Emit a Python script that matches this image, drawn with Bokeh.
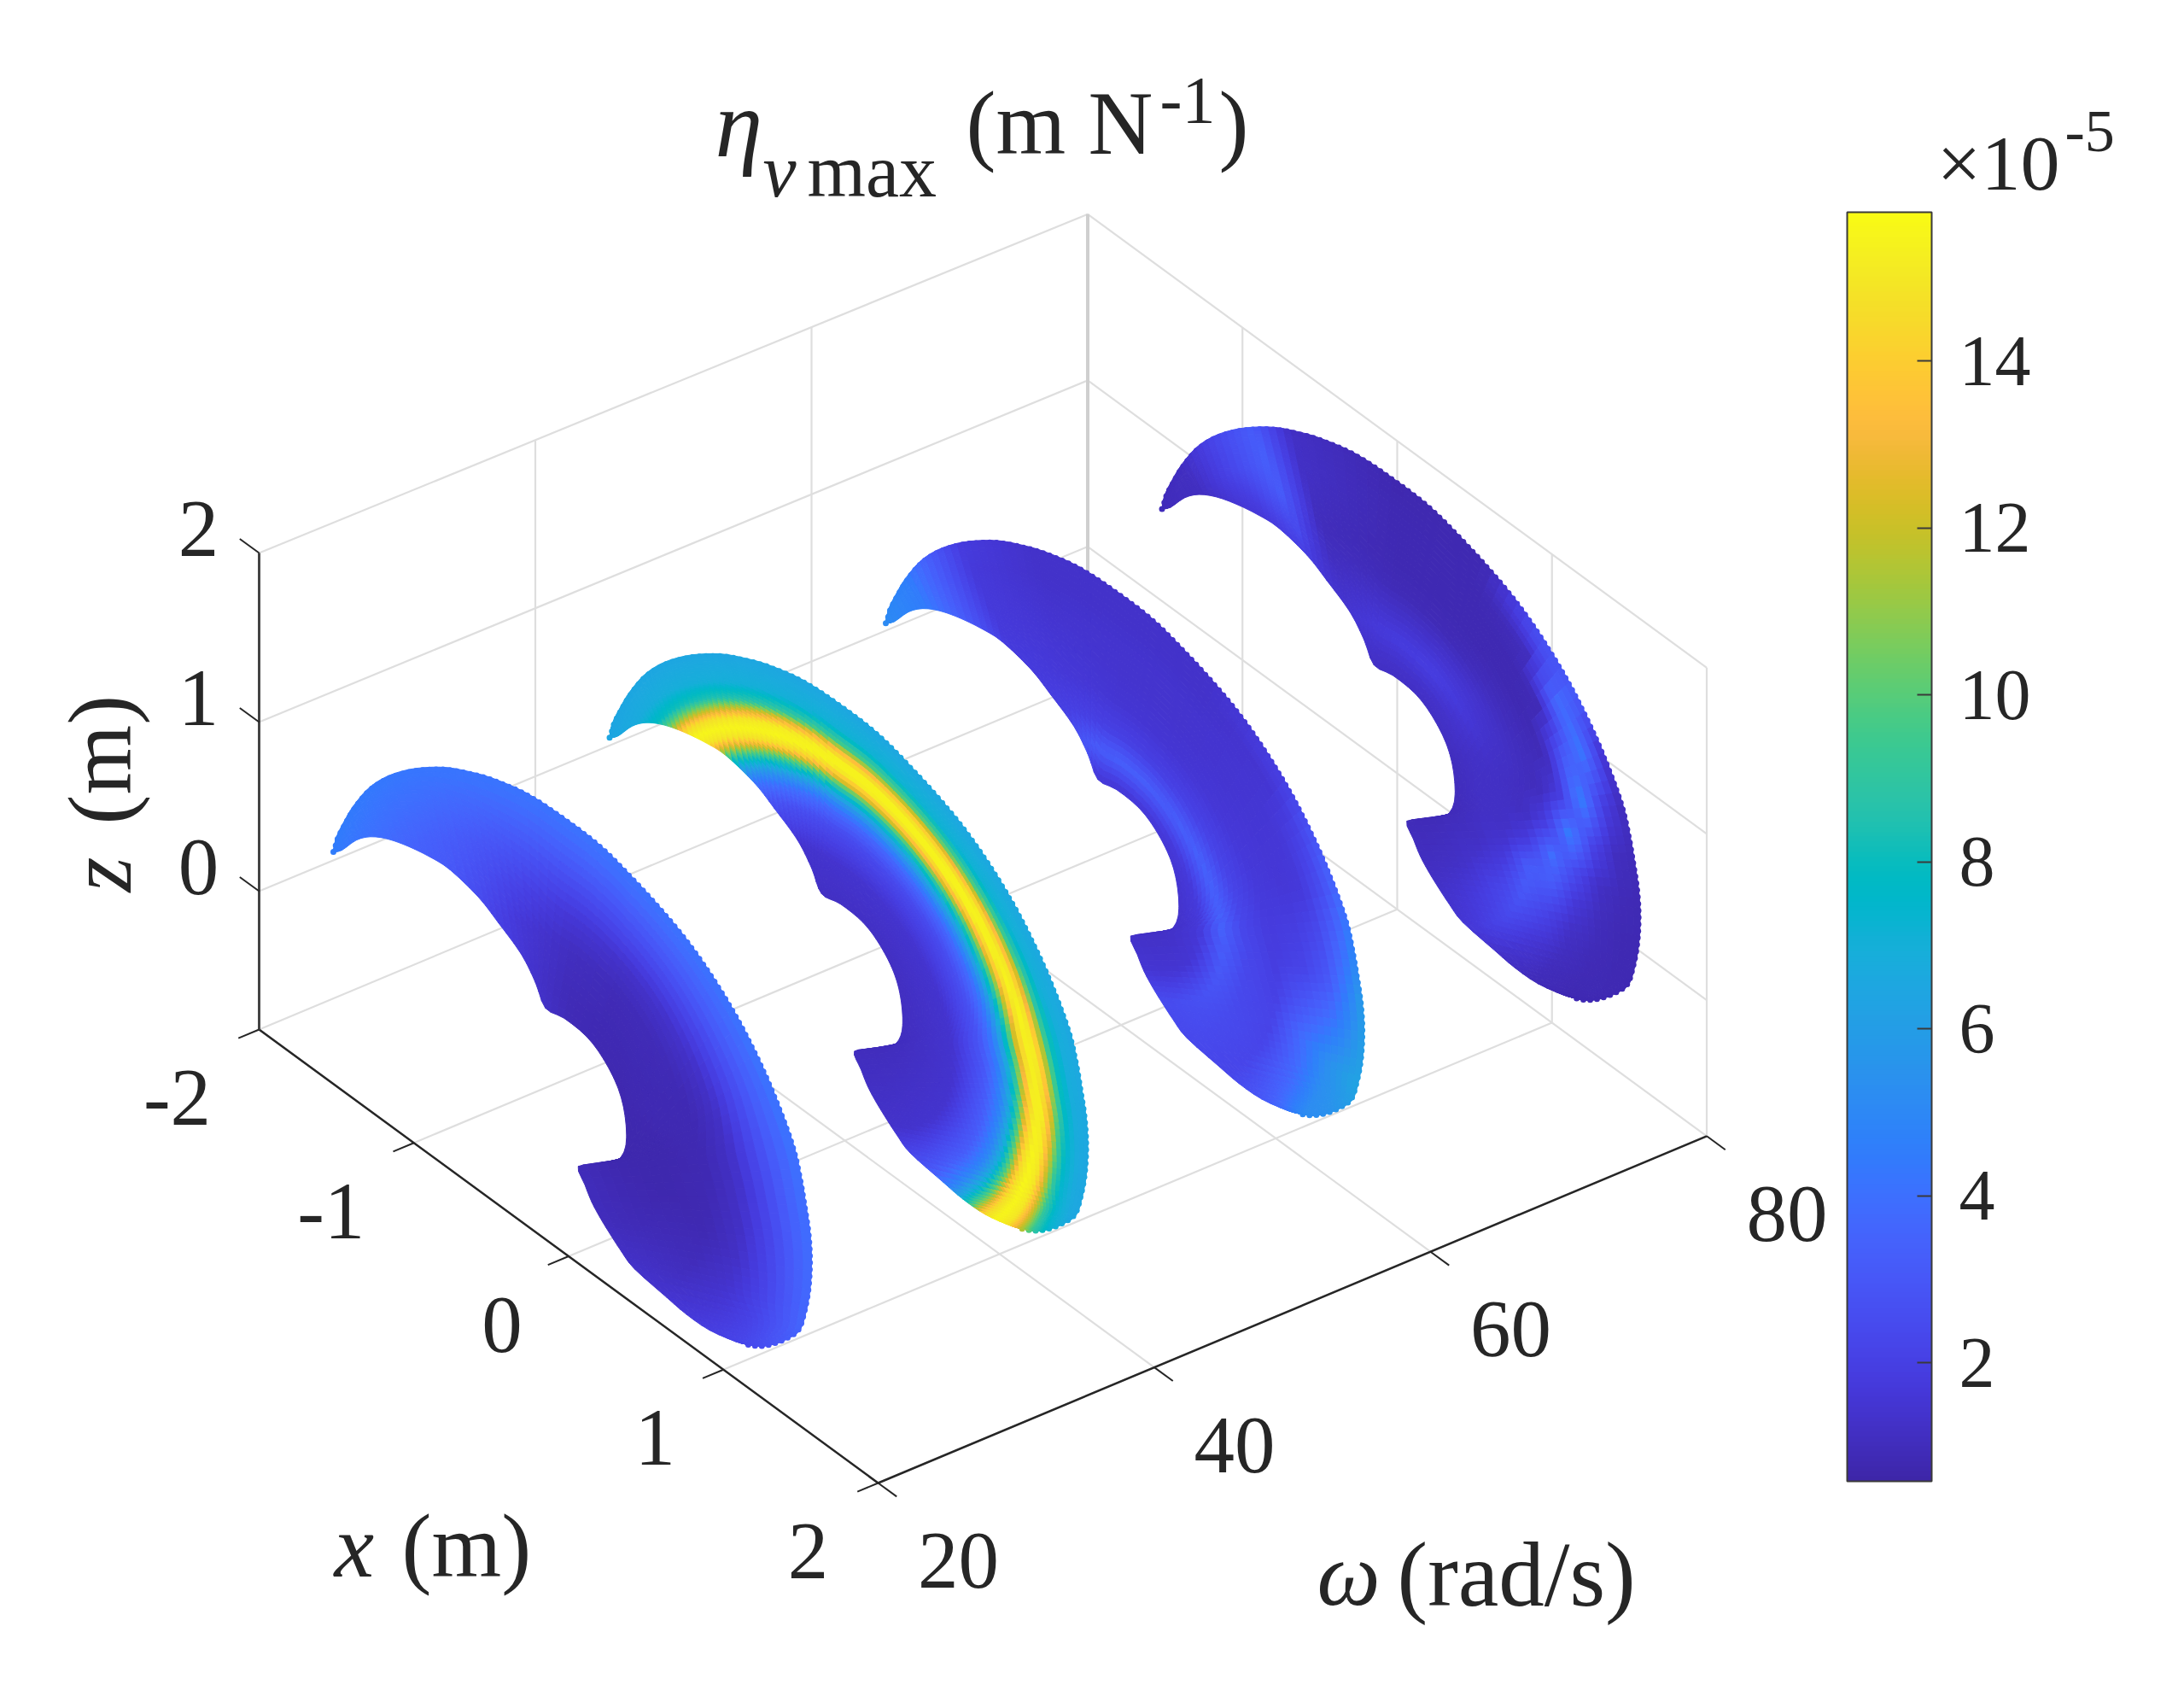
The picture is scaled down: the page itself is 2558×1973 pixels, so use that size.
import numpy as np
from bokeh.plotting import figure
from bokeh.models import Range1d, ColumnDataSource, ColorBar, LinearColorMapper, FixedTicker
from bokeh.core.properties import value
from bokeh.embed import file_html
from bokeh.resources import INLINE

# ---- axes -------------------------------------------------------------
x_ticks = [-2, -1, 0, 1, 2]
w_ticks = [20, 40, 60, 80]
z_ticks = [0, 1, 2]
z_min = -0.818
cb_ticks = [2, 4, 6, 8, 10, 12, 14]
cb_low = 0.583
cb_high = 15.785

# ---- crescent outline (x, z in m); same for all omega
slice_omega = [20, 40, 60, 80]
outer_x = [-1.52, -1.502, -1.447, -1.391, -1.299, -1.189, -1.06, -0.931, -0.785, -0.637, -0.49, -0.269, -0.03, 0.209, 0.429,
           0.614, 0.779, 0.945, 1.11, 1.257, 1.367, 1.459, 1.505, 1.533, 1.56, 1.57, 1.56, 1.533, 1.496, 1.422, 1.33, 1.239, 1.146]
outer_z = [0.554, 0.652, 0.79, 0.912, 1.074, 1.216, 1.344, 1.448, 1.546, 1.62, 1.68, 1.74, 1.757, 1.749, 1.695,
           1.633, 1.559, 1.451, 1.309, 1.139, 0.976, 0.803, 0.648, 0.515, 0.365, 0.203, 0.028, -0.125, -0.251, -0.35, -0.446, -0.52, -0.569]
inner_x = [-1.52, -1.465, -1.373, -1.281, -1.171, -1.042, -0.895, -0.766, -0.582, -0.454, -0.306, -0.214, -0.15, -0.03, 0.117,
           0.227, 0.319, 0.365, 0.37, 0.312, 0.19, 0.062, 0.105, 0.148, 0.20, 0.263, 0.34, 0.424, 0.632, 0.76, 0.908, 1.073, 1.146]
inner_z = [0.554, 0.601, 0.722, 0.804, 0.865, 0.91, 0.943, 0.954, 0.915, 0.85, 0.764, 0.657, 0.549, 0.57, 0.559,
           0.498, 0.392, 0.254, 0.085, -0.045, -0.155, -0.245, -0.325, -0.395, -0.45, -0.503, -0.56, -0.607, -0.636, -0.651, -0.645, -0.601, -0.569]

# ---- eta values (x 1e-5), by angle and radius in the x-z plane
phi_w20 = [170, 150, 130, 110, 90, 70, 50, 30, 10, -10, -30, -50, -70, -90]
rho_w20 = [0.3, 0.6, 0.9, 1.1, 1.3, 1.45, 1.6, 1.75]
eta_w20 = [
    [3.0, 3.0, 3.0, 3.4, 3.8, 4.2, 4.6, 4.6],
    [3.0, 3.0, 3.0, 3.3, 3.6, 4.0, 4.4, 4.5],
    [2.0, 2.0, 2.4, 2.9, 3.3, 3.8, 4.2, 4.4],
    [1.2, 1.3, 1.6, 2.2, 2.9, 3.5, 4.1, 4.3],
    [0.9, 0.9, 1.1, 1.6, 2.5, 3.3, 4.0, 4.2],
    [0.8, 0.8, 0.9, 1.3, 2.4, 3.2, 4.0, 4.1],
    [0.7, 0.8, 0.9, 1.3, 2.4, 3.3, 4.0, 4.2],
    [0.7, 0.8, 0.8, 1.2, 2.4, 3.3, 4.1, 4.3],
    [0.7, 0.7, 0.8, 1.2, 2.3, 3.3, 4.1, 4.3],
    [0.7, 0.7, 0.8, 1.2, 2.2, 3.1, 4.0, 4.2],
    [0.7, 0.8, 1.0, 1.5, 2.2, 2.9, 3.6, 3.8],
    [0.8, 0.9, 1.3, 1.8, 2.4, 2.8, 3.2, 3.4],
    [0.9, 1.0, 1.5, 2.1, 2.5, 2.7, 3.0, 3.0],
    [0.9, 1.0, 1.5, 2.1, 2.5, 2.7, 3.0, 3.0],
]
phi_w60 = [170, 150, 130, 110, 90, 70, 50, 30, 10, -10, -30, -50, -70, -90]
rho_w60 = [0.3, 0.5, 0.65, 0.8, 1.0, 1.2, 1.35, 1.5, 1.6, 1.75]
eta_w60 = [
    [5.4, 5.4, 5.4, 5.4, 5.4, 5.4, 5.4, 5.4, 5.4, 5.4],
    [4.4, 4.4, 4.4, 4.4, 4.4, 4.4, 4.4, 4.5, 4.6, 4.6],
    [1.8, 1.9, 2.1, 1.9, 1.8, 1.7, 1.7, 1.7, 1.8, 1.8],
    [1.3, 1.7, 3.0, 2.0, 1.6, 1.5, 1.4, 1.3, 1.3, 1.3],
    [1.2, 1.7, 3.3, 2.0, 1.5, 1.4, 1.4, 1.3, 1.3, 1.3],
    [1.2, 1.7, 3.2, 2.0, 1.5, 1.4, 1.4, 1.3, 1.3, 1.3],
    [1.2, 1.7, 3.3, 2.1, 1.6, 1.5, 1.5, 1.5, 1.9, 2.0],
    [1.2, 1.7, 3.4, 2.2, 1.7, 1.6, 1.7, 2.6, 3.6, 4.0],
    [1.2, 1.7, 3.4, 2.3, 1.8, 2.2, 3.0, 4.8, 6.2, 6.4],
    [1.2, 1.6, 3.1, 2.3, 2.1, 4.0, 5.3, 6.2, 6.5, 6.5],
    [1.2, 1.5, 2.8, 2.4, 2.2, 3.6, 5.2, 5.2, 5.0, 5.0],
    [1.2, 1.5, 2.6, 2.4, 2.2, 2.6, 2.9, 3.0, 3.0, 3.0],
    [1.2, 1.5, 2.4, 2.3, 2.2, 2.3, 2.4, 2.4, 2.4, 2.4],
    [1.2, 1.5, 2.4, 2.3, 2.2, 2.3, 2.4, 2.4, 2.4, 2.4],
]
phi_w80 = [170, 150, 135, 125, 115, 90, 70, 55, 45, 35, 25, 15, 5, -5, -15, -30, -50, -70, -90]
rho_w80 = [0.3, 0.55, 0.7, 0.85, 1.0, 1.15, 1.3, 1.45, 1.6, 1.75]
eta_w80 = [
    [0.9, 0.9, 0.9, 0.9, 0.9, 0.9, 0.9, 0.9, 0.9, 0.9],
    [1.0, 1.0, 1.0, 1.0, 1.0, 1.0, 1.0, 1.1, 1.1, 1.2],
    [1.0, 1.1, 1.2, 1.3, 1.4, 1.5, 1.9, 2.4, 2.4, 2.2],
    [1.0, 1.2, 1.4, 1.6, 1.9, 2.5, 3.1, 3.3, 3.2, 3.0],
    [1.0, 1.3, 1.5, 1.3, 1.1, 1.0, 1.1, 1.2, 1.2, 1.1],
    [0.9, 1.3, 1.8, 1.3, 0.9, 0.8, 0.8, 0.8, 0.75, 0.75],
    [0.9, 1.3, 1.9, 1.4, 0.9, 0.8, 0.8, 0.8, 0.8, 0.8],
    [0.9, 1.3, 1.7, 1.4, 1.0, 0.8, 0.8, 1.0, 2.6, 2.8],
    [0.9, 1.3, 1.5, 1.3, 1.0, 0.8, 0.9, 3.8, 3.3, 1.8],
    [0.9, 1.2, 1.3, 1.2, 1.0, 0.9, 3.0, 4.2, 1.6, 1.0],
    [0.9, 1.2, 1.2, 1.1, 1.0, 1.7, 4.6, 2.0, 1.0, 0.9],
    [0.9, 1.2, 1.2, 1.1, 1.9, 4.5, 2.2, 1.1, 0.9, 0.8],
    [0.9, 1.2, 1.2, 1.8, 3.9, 2.4, 1.2, 0.9, 0.8, 0.8],
    [0.9, 1.2, 1.5, 3.2, 3.1, 1.6, 1.0, 0.8, 0.8, 0.8],
    [0.9, 1.2, 1.8, 3.1, 2.2, 1.2, 0.9, 0.8, 0.8, 0.8],
    [0.9, 1.3, 2.0, 2.5, 1.6, 1.0, 0.8, 0.8, 0.8, 0.8],
    [0.9, 1.2, 1.6, 1.8, 1.2, 0.9, 0.8, 0.8, 0.8, 0.8],
    [0.9, 1.1, 1.2, 1.2, 1.0, 0.8, 0.8, 0.8, 0.8, 0.8],
    [0.9, 1.1, 1.2, 1.2, 1.0, 0.8, 0.8, 0.8, 0.8, 0.8],
]
phi_w40 = [170, 140, 110, 80, 50, 20, -10, -40, -70, -90]
rho_w40 = [0.3, 0.7, 0.9, 1.0, 1.06, 1.12, 1.17, 1.22, 1.27, 1.32, 1.37, 1.42, 1.5, 1.7]
eta_w40 = [
    [3.0, 3.0, 3.5, 5.0, 6.0, 7.0, 8.0, 9.5, 10.0, 9.5, 8.0, 7.0, 6.5, 6.3],
    [1.0, 1.4, 2.8, 4.3, 6.0, 8.6, 12.0, 15.0, 15.6, 14.5, 11.0, 8.2, 6.9, 6.2],
    [1.0, 1.4, 2.6, 4.0, 5.5, 7.8, 10.8, 14.6, 15.6, 15.2, 12.5, 8.8, 7.0, 6.3],
    [1.0, 1.4, 2.4, 3.6, 4.9, 6.8, 9.2, 13.0, 15.4, 15.5, 14.0, 10.0, 7.2, 6.3],
    [1.0, 1.4, 2.4, 3.6, 4.9, 6.8, 9.2, 13.0, 15.4, 15.5, 14.0, 10.0, 7.2, 6.3],
    [1.0, 1.4, 2.8, 4.3, 6.0, 8.6, 12.0, 15.0, 15.6, 14.5, 11.0, 8.2, 6.9, 6.2],
    [1.0, 1.4, 3.2, 5.0, 7.0, 10.5, 14.5, 15.6, 15.0, 12.0, 9.0, 7.4, 6.6, 6.1],
    [1.0, 1.4, 3.2, 5.0, 7.0, 10.5, 14.5, 15.6, 15.0, 12.0, 9.0, 7.4, 6.6, 6.1],
    [1.0, 1.3, 2.4, 3.6, 4.4, 4.8, 6.5, 8.0, 8.0, 7.0, 6.5, 6.0, 6.0, 6.0],
    [1.0, 1.2, 2.0, 3.0, 3.4, 3.6, 4.0, 4.2, 4.2, 4.2, 4.2, 4.2, 4.2, 4.2],
]

# parula colour map of the colour bar
parula = [[0.2422,0.1504,0.6603],[0.2504,0.1650,0.7076],[0.2578,0.1818,0.7511],[0.2647,0.1978,0.7952],[0.2706,0.2147,0.8364],[0.2751,0.2342,0.8710],[0.2783,0.2559,0.8991],[0.2803,0.2782,0.9221],[0.2813,0.3006,0.9414],[0.2810,0.3228,0.9579],[0.2795,0.3447,0.9717],[0.2760,0.3667,0.9829],[0.2699,0.3892,0.9906],[0.2602,0.4123,0.9952],[0.2440,0.4358,0.9988],[0.2206,0.4603,0.9973],[0.1963,0.4847,0.9892],[0.1834,0.5074,0.9798],[0.1786,0.5289,0.9682],[0.1764,0.5499,0.9520],[0.1687,0.5703,0.9359],[0.1540,0.5902,0.9218],[0.1460,0.6091,0.9079],[0.1380,0.6276,0.8973],[0.1248,0.6459,0.8883],[0.1113,0.6635,0.8763],[0.0952,0.6798,0.8598],[0.0689,0.6948,0.8394],[0.0297,0.7082,0.8163],[0.0036,0.7203,0.7917],[0.0067,0.7312,0.7660],[0.0433,0.7411,0.7394],[0.0964,0.7500,0.7120],[0.1408,0.7584,0.6842],[0.1717,0.7670,0.6554],[0.1938,0.7758,0.6251],[0.2161,0.7843,0.5923],[0.2470,0.7918,0.5567],[0.2906,0.7973,0.5188],[0.3406,0.8008,0.4789],[0.3909,0.8029,0.4354],[0.4456,0.8024,0.3909],[0.5044,0.7993,0.3480],[0.5616,0.7942,0.3045],[0.6174,0.7876,0.2612],[0.6720,0.7793,0.2227],[0.7242,0.7698,0.1910],[0.7738,0.7598,0.1646],[0.8203,0.7498,0.1535],[0.8634,0.7406,0.1596],[0.9035,0.7330,0.1774],[0.9393,0.7288,0.2100],[0.9728,0.7298,0.2394],[0.9956,0.7434,0.2371],[0.9970,0.7659,0.2199],[0.9952,0.7893,0.2028],[0.9892,0.8136,0.1885],[0.9786,0.8386,0.1766],[0.9676,0.8639,0.1643],[0.9610,0.8890,0.1537],[0.9597,0.9135,0.1423],[0.9628,0.9373,0.1265],[0.9691,0.9606,0.1064],[0.9769,0.9839,0.0805]]

# ---- view ---------------------------------------------------------------
ORIGIN = (303.0, 1205.0)
UX = (181.25, 132.75)
UW = (16.175, -6.77)
UZ = 198.0
UZ_SHRINK = 0.017  # slight perspective of the original view
RHO_CENTER = (0.0, 0.1)
RIM_STEP = 8.0     # px between the points along the scalloped rim
RIM_INSET = 0.012  # m, how far the rim points sit inside the outline


def project(x, w, z):
    x, w, z = np.asarray(x, float), np.asarray(w, float), np.asarray(z, float)
    px = ORIGIN[0] + (x + 2) * UX[0] + (w - 20) * UW[0]
    scale = UZ * (1 - UZ_SHRINK * (w - 20) / 60)
    py = ORIGIN[1] + (x + 2) * UX[1] + (w - 20) * UW[1] - (z - z_min) * scale
    return px, py


pal = np.array(parula) * 255
pal_pos = np.linspace(0, 1, len(pal))


def to_hex(v):
    t = np.clip((np.asarray(v, float) - cb_low) / (cb_high - cb_low), 0, 1)
    r = np.interp(t, pal_pos, pal[:, 0]).astype(int)
    g = np.interp(t, pal_pos, pal[:, 1]).astype(int)
    b = np.interp(t, pal_pos, pal[:, 2]).astype(int)
    return ["#%02x%02x%02x" % c for c in zip(r.ravel(), g.ravel(), b.ravel())]


def smooth(points, per):
    # Catmull-Rom through the outline points
    p = np.asarray(points, float)
    q = np.concatenate([[p[0]], p, [p[-1]]])
    out = []
    for i in range(1, len(q) - 2):
        for s in np.linspace(0, 1, per, endpoint=False):
            a, b, c, d = q[i - 1], q[i], q[i + 1], q[i + 2]
            out.append(0.5 * (2 * b + (c - a) * s + (2 * a - 5 * b + 4 * c - d) * s ** 2 + (3 * b - a - 3 * c + d) * s ** 3))
    out.append(p[-1])
    return np.array(out)


def shade(x, z, phis, rhos, table):
    # surface colour between the read values, like MATLAB's "shading interp"
    phi = np.degrees(np.arctan2(z - RHO_CENTER[1], x - RHO_CENTER[0]))
    rho = np.hypot(x - RHO_CENTER[0], z - RHO_CENTER[1])
    tab = np.asarray(table, float)
    ph = np.asarray(phis, float)[::-1]
    tab = tab[::-1]
    by_rho = np.array([np.interp(rho.ravel(), rhos, row) for row in tab])
    flat = phi.ravel()
    res = np.array([np.interp(flat[i], ph, by_rho[:, i]) for i in range(flat.size)])
    return res.reshape(x.shape)


tables = {20: (phi_w20, rho_w20, eta_w20, 3, 22), 40: (phi_w40, rho_w40, eta_w40, 4, 44),
          60: (phi_w60, rho_w60, eta_w60, 3, 30), 80: (phi_w80, rho_w80, eta_w80, 3, 30)}

p = figure(width=2542, height=1957, x_range=Range1d(0, 2542), y_range=Range1d(1957, 0),
           toolbar_location=None, output_backend="svg", min_border=0,
           x_axis_type=None, y_axis_type=None, outline_line_color=None)
p.grid.visible = False

# ---- grid ----------------------------------------------------------------
GRID = "#dedede"
gx0, gx1, gy0, gy1 = [], [], [], []


def grid_line(a, b):
    pa, pb = project(*a), project(*b)
    gx0.append(float(pa[0])); gy0.append(float(pa[1])); gx1.append(float(pb[0])); gy1.append(float(pb[1]))


for x in x_ticks:
    grid_line((x, 20, z_min), (x, 80, z_min))
    grid_line((x, 80, z_min), (x, 80, 2))
for w in w_ticks:
    grid_line((-2, w, z_min), (2, w, z_min))
    grid_line((-2, w, z_min), (-2, w, 2))
for z in z_ticks:
    grid_line((-2, 20, z), (-2, 80, z))
    grid_line((-2, 80, z), (2, 80, z))
p.segment(gx0, gy0, gx1, gy1, line_color=GRID, line_width=2.2)
bk = project([-2, -2], [80, 80], [z_min, 2])
p.line(list(bk[0]), list(bk[1]), line_color="#cfcfcf", line_width=4)

# ---- slices ---------------------------------------------------------------
for w in slice_omega:
    phis, rhos, table, per, n_across = tables[w]
    out = smooth(np.c_[outer_x, outer_z], per)
    inn = smooth(np.c_[inner_x, inner_z], per)
    s = np.linspace(0, 1, n_across + 1)[None, :, None]
    mesh = out[:, None, :] * (1 - s) + inn[:, None, :] * s
    mx, mz = mesh[..., 0], mesh[..., 1]
    px, py = project(mx, np.full(mx.shape, w), mz)
    cx = (mx[:-1, :-1] + mx[1:, :-1] + mx[:-1, 1:] + mx[1:, 1:]) / 4
    cz = (mz[:-1, :-1] + mz[1:, :-1] + mz[:-1, 1:] + mz[1:, 1:]) / 4
    cols = to_hex(shade(cx, cz, phis, rhos, table))
    xs, ys = [], []
    for i in range(cx.shape[0]):
        for j in range(cx.shape[1]):
            xs.append([px[i, j], px[i + 1, j], px[i + 1, j + 1], px[i, j + 1]])
            ys.append([py[i, j], py[i + 1, j], py[i + 1, j + 1], py[i, j + 1]])
    # scalloped outer rim made of the surface's points
    dense = smooth(np.c_[outer_x, outer_z], 16)
    dense_in = smooth(np.c_[inner_x, inner_z], 16)
    width = np.maximum(np.hypot(*(dense - dense_in).T), 1e-6)
    blend = np.clip(RIM_INSET / width, 0, 0.4)[:, None]
    dense = dense * (1 - blend) + dense_in * blend
    dx, dy = project(dense[:, 0], np.full(len(dense), w), dense[:, 1])
    arc = np.r_[0, np.cumsum(np.hypot(np.diff(dx), np.diff(dy)))]
    stops = np.arange(0, arc[-1], RIM_STEP)
    rim_mx = np.interp(stops, arc, dense[:, 0])
    rim_mz = np.interp(stops, arc, dense[:, 1])
    rim_v = shade(rim_mx, rim_mz, phis, rhos, table)
    rim_x, rim_y = project(rim_mx, np.full(len(rim_mx), w), rim_mz)
    p.scatter(rim_x, rim_y, size=7, marker="circle", fill_color=to_hex(rim_v), line_color=None)
    src = ColumnDataSource(dict(xs=xs, ys=ys, c=cols))
    p.patches("xs", "ys", source=src, fill_color="c", line_color="c", line_width=1)

# ---- axes, ticks ------------------------------------------------------------
AX = "#262626"
a = project([-2, 2, 2], [20, 20, 80], [z_min, z_min, z_min])
p.line(list(a[0]), list(a[1]), line_color=AX, line_width=2.5)
a = project([-2, -2], [20, 20], [z_min, 2])
p.line(list(a[0]), list(a[1]), line_color="#444444", line_width=3)

tx0, ty0 = project(x_ticks, [20] * 5, [z_min] * 5)
tx1, ty1 = project(x_ticks, [18.5] * 5, [z_min] * 5)
p.segment(tx0, ty0, tx1, ty1, line_color=AX, line_width=2)
tx0, ty0 = project([2] * 4, w_ticks, [z_min] * 4)
tx1, ty1 = project([2.12] * 4, w_ticks, [z_min] * 4)
p.segment(tx0, ty0, tx1, ty1, line_color=AX, line_width=2)
tx0, ty0 = project([-2] * 3, [20] * 3, z_ticks)
tx1, ty1 = project([-2.125] * 3, [20] * 3, z_ticks)
p.segment(tx0, ty0, tx1, ty1, line_color=AX, line_width=2)

SERIF = value("Liberation Serif")
TXT = "#262626"


def label(xs, ys, texts, size, align="center", baseline="middle", style="normal", angle=0.0):
    p.text(x=list(xs), y=list(ys), text=list(texts), text_font=SERIF, text_font_size=f"{size}px",
           text_align=align, text_baseline=baseline, text_font_style=style, text_color=TXT, angle=angle)


lx, ly = project(x_ticks, [20] * 5, [z_min] * 5)
x_shift = np.array([-96, -97, -78, -80, -82])
label(lx + x_shift, ly + 80, [str(v) for v in x_ticks], 95)
lx, ly = project([2] * 4, w_ticks, [z_min] * 4)
label(lx + 94, ly + 91, [str(v) for v in w_ticks], 95)
lx, ly = project([-2] * 3, [20] * 3, z_ticks)
label(lx - 71, ly - 28, [str(v) for v in z_ticks], 95)

label([391], [1810], ["x"], 105, "left", "alphabetic", "italic")
label([470], [1810], ["(m)"], 105, "left", "alphabetic")
label([1542], [1843], ["ω"], 105, "left", "alphabetic", "italic")
label([1636], [1843], ["(rad/s)"], 107, "left", "alphabetic")
label([117], [1044], ["z"], 105, "left", "alphabetic", "italic", np.pi / 2)
label([117], [965], ["(m)"], 105, "left", "alphabetic", "normal", np.pi / 2)

label([837], [144], ["η"], 112, "left", "alphabetic", "italic")
label([893], [200], ["ν"], 88, "left", "alphabetic", "italic")
label([945], [200], ["max"], 88, "left", "alphabetic")
label([1131], [144], ["(m N"], 105, "left", "alphabetic")
label([1358], [117], ["-1"], 78, "left", "alphabetic")
label([1427], [144], [")"], 105, "left", "alphabetic")

# ---- colour bar ---------------------------------------------------------------
levels = np.linspace(cb_low, cb_high, 256)
mapper = LinearColorMapper(palette=to_hex(levels), low=cb_low, high=cb_high)
cb = ColorBar(color_mapper=mapper, ticker=FixedTicker(ticks=cb_ticks), width=99, height=1486,
              location=(2163, 1957 - 1734), padding=0, margin=0,
              major_label_text_font="Liberation Serif", major_label_text_font_size="84px",
              major_label_text_color=TXT, label_standoff=32,
              major_tick_in=17, major_tick_out=0, major_tick_line_color="#3a3a3a", major_tick_line_width=2,
              minor_tick_line_color=None, bar_line_color="#3a3a3a", bar_line_width=2,
              border_line_color=None, background_fill_alpha=0)
p.add_layout(cb, "center")
label([2268], [190], ["×10"], 92, "left", "alphabetic")
label([2418], [153], ["-5"], 70, "left", "alphabetic")

open("out.html", "w").write(file_html(p, INLINE))
